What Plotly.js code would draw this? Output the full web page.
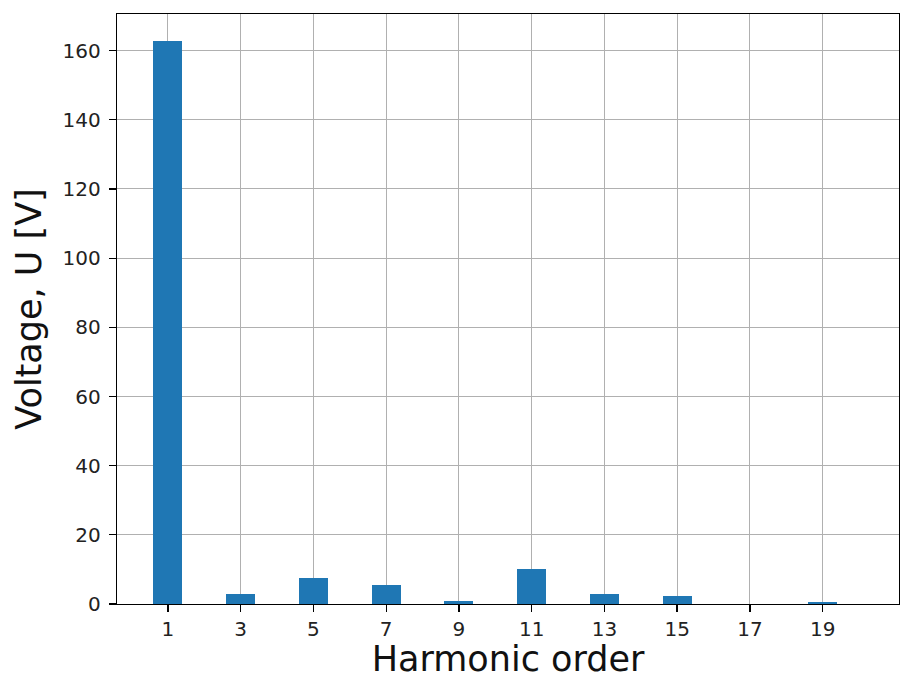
<!DOCTYPE html>
<html>
<head>
<meta charset="utf-8">
<script src="https://cdn.plot.ly/plotly-3.0.1.min.js"></script>
<style>
  html, body { margin: 0; padding: 0; background: #fff; }
  #chart { width: 900px; height: 679px; }
</style>
</head>
<body>
<div id="chart"></div>
<script>
// Harmonic spectrum of the voltage
const harmonicOrder = [1, 3, 5, 7, 9, 11, 13, 15, 17, 19];
const voltage = [162.9, 2.9, 7.4, 5.6, 1.0, 10.1, 2.9, 2.4, 0.0, 0.6];
const tickLabels = ["1", "3", "5", "7", "9", "11", "13", "15", "17", "19"];
const yTicks = [0, 20, 40, 60, 80, 100, 120, 140, 160];

const font = "DejaVu Sans, sans-serif";

const trace = {
  type: "bar",
  x: harmonicOrder,
  y: voltage,
  width: 0.8,
  marker: { color: "#1f77b4", line: { width: 0 } },
  hoverinfo: "x+y"
};

const axisCommon = {
  showline: true,
  linecolor: "#000",
  linewidth: 1.3,
  mirror: true,
  ticks: "outside",
  ticklen: 7,
  tickwidth: 1.3,
  tickcolor: "#000",
  showgrid: true,
  gridcolor: "#b0b0b0",
  gridwidth: 1,
  zeroline: false,
  tickfont: { family: font, size: 20, color: "#222" }
};

const layout = {
  width: 900,
  height: 679,
  margin: { l: 117, r: 1, t: 14, b: 75 },
  paper_bgcolor: "#fff",
  plot_bgcolor: "#fff",
  showlegend: false,
  bargap: 0,
  xaxis: Object.assign({}, axisCommon, {
    range: [-0.4, 21.1],
    tickmode: "array",
    tickvals: harmonicOrder,
    ticktext: tickLabels,
    title: { text: "Harmonic order", font: { family: font, size: 35, color: "#111" }, standoff: 8 }
  }),
  yaxis: Object.assign({}, axisCommon, {
    range: [0, 170.6],
    tickmode: "array",
    tickvals: yTicks,
    ticklabelstandoff: 4,
    title: { text: "Voltage, U [V]", font: { family: font, size: 35, color: "#111" }, standoff: 10 }
  })
};

Plotly.newPlot("chart", [trace], layout, { displayModeBar: false, staticPlot: true });
</script>
</body>
</html>
